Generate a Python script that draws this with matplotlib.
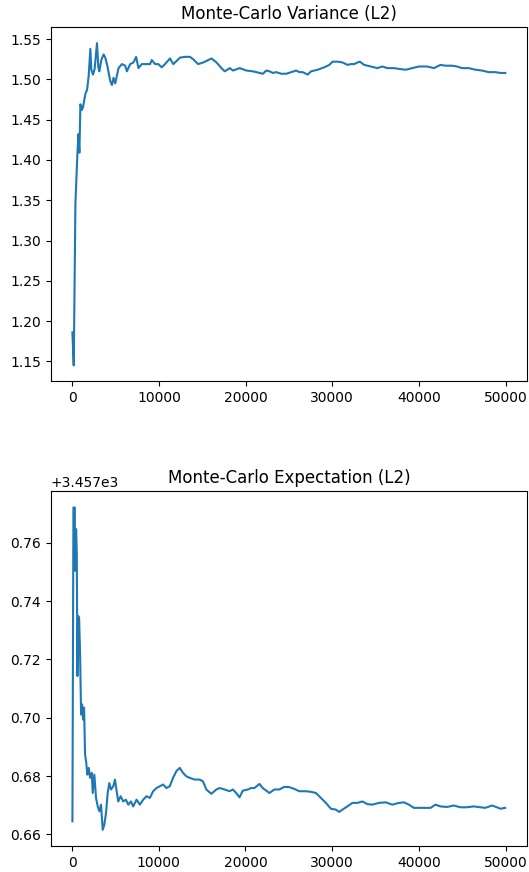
import numpy as np
import matplotlib
matplotlib.use("Agg")
import matplotlib.pyplot as plt

# running estimates vs. number of samples
var_n = [0, 150, 345, 575, 690, 805, 920, 1092, 1230, 1494, 1690, 1874, 2069, 2184,
         2379, 2563, 2839, 2989, 3103, 3333, 3598, 3793, 3988, 4368, 4563, 4747, 4943,
         5322, 5713, 6092, 6287, 6667, 7046, 7356, 7621, 8011, 8586, 8966, 9161, 9540,
         9920, 10310, 10690, 11264, 11644, 12034, 12414, 12989, 13563, 13943, 14517,
         15092, 15483, 16057, 16632, 17207, 17586, 18161, 18540, 19310, 20080, 20839,
         21609, 21989, 22379, 22759, 23138, 23529, 24103, 24678, 25253, 25828, 26207,
         26586, 27161, 27552, 28310, 29080, 29655, 30034, 30609, 31184, 31759, 32149,
         32529, 32908, 33184, 33678, 34448, 35207, 35782, 36356, 37126, 37701, 38471,
         39230, 40000, 40954, 41724, 42494, 43069, 43828, 44402, 44977, 45747, 46517,
         47276, 48046, 48816, 49391, 49966]
var_est = [1.186, 1.145, 1.346, 1.408, 1.432, 1.409, 1.469, 1.462, 1.466, 1.482, 1.487,
           1.504, 1.538, 1.512, 1.506, 1.513, 1.545, 1.515, 1.510, 1.524, 1.531, 1.527,
           1.519, 1.498, 1.493, 1.502, 1.495, 1.514, 1.519, 1.517, 1.510, 1.519, 1.521,
           1.528, 1.514, 1.519, 1.519, 1.519, 1.524, 1.519, 1.519, 1.515, 1.519, 1.526,
           1.519, 1.523, 1.527, 1.528, 1.528, 1.525, 1.519, 1.521, 1.523, 1.526, 1.521,
           1.514, 1.510, 1.514, 1.511, 1.514, 1.511, 1.510, 1.508, 1.507, 1.511, 1.510,
           1.508, 1.509, 1.507, 1.507, 1.509, 1.511, 1.509, 1.509, 1.506, 1.510, 1.512,
           1.515, 1.518, 1.522, 1.522, 1.521, 1.518, 1.519, 1.519, 1.521, 1.522, 1.518,
           1.516, 1.514, 1.516, 1.514, 1.514, 1.513, 1.512, 1.514, 1.516, 1.516, 1.514,
           1.518, 1.517, 1.517, 1.516, 1.514, 1.514, 1.512, 1.511, 1.509, 1.509, 1.508,
           1.508]

exp_n = [35, 150, 310, 345, 460, 540, 610, 690, 805, 920, 1034, 1149, 1264, 1379, 1494,
         1609, 1759, 1920, 2069, 2264, 2379, 2563, 2759, 2954, 3138, 3333, 3529, 3713,
         3908, 4103, 4287, 4483, 4747, 4943, 5138, 5322, 5598, 5897, 6207, 6471, 6782,
         7046, 7437, 7816, 8195, 8586, 8966, 9345, 9736, 10115, 10494, 10885, 11264,
         11644, 12034, 12414, 12793, 13184, 13563, 14138, 14713, 15092, 15483, 16057,
         16632, 17011, 17586, 18161, 18540, 18931, 19310, 19690, 20264, 20655, 21034,
         21609, 21989, 22759, 23333, 23908, 24483, 25057, 25632, 26207, 26977, 27552,
         28126, 28701, 29276, 29851, 30425, 30805, 31184, 31759, 32333, 32908, 33483,
         34057, 34632, 35402, 36172, 36931, 37701, 38276, 38851, 39425, 40000, 40770,
         41345, 41920, 42494, 43253, 44023, 44793, 45552, 46322, 47092, 47667, 48437,
         49011, 49391, 49966]
exp_frac = [0.6645, 0.7721, 0.7721, 0.7504, 0.7647, 0.7562, 0.7143, 0.7349, 0.7343,
            0.7218, 0.7011, 0.7046, 0.6994, 0.7035, 0.6874, 0.6851, 0.6805, 0.6828,
            0.6794, 0.6811, 0.6742, 0.6805, 0.6725, 0.6696, 0.6679, 0.6702, 0.6616,
            0.6633, 0.6673, 0.6742, 0.6776, 0.6754, 0.6765, 0.6788, 0.6748, 0.6713,
            0.6731, 0.6713, 0.6719, 0.6702, 0.6713, 0.6696, 0.6719, 0.6702, 0.6719,
            0.6731, 0.6725, 0.6748, 0.6759, 0.6765, 0.6771, 0.6759, 0.6765, 0.6794,
            0.6817, 0.6828, 0.6811, 0.6799, 0.6794, 0.6788, 0.6788, 0.6782, 0.6754,
            0.6739, 0.6754, 0.6759, 0.6754, 0.6748, 0.6754, 0.6742, 0.6727, 0.6750,
            0.6754, 0.6759, 0.6759, 0.6773, 0.6759, 0.6742, 0.6754, 0.6754, 0.6763,
            0.6762, 0.6756, 0.6748, 0.6748, 0.6746, 0.6742, 0.6725, 0.6708, 0.6688,
            0.6685, 0.6677, 0.6685, 0.6696, 0.6708, 0.6708, 0.6713, 0.6704, 0.6702,
            0.6708, 0.6710, 0.6702, 0.6708, 0.6710, 0.6702, 0.6691, 0.6691, 0.6691,
            0.6691, 0.6702, 0.6696, 0.6694, 0.6699, 0.6693, 0.6693, 0.6696, 0.6693,
            0.6691, 0.6699, 0.6693, 0.6688, 0.6691]
EXP_BASE = 3457.0

exp_est = EXP_BASE + np.array(exp_frac)

fig, (ax1, ax2) = plt.subplots(2, 1, figsize=(5.29, 8.72), dpi=100)
fig.subplots_adjust(left=0.096, right=0.996, top=0.969, bottom=0.030, hspace=0.31)

ax1.plot(var_n, var_est, color='#1f77b4')
ax1.set_title("Monte-Carlo Variance (L2)")

ax2.plot(exp_n, exp_est, color='#1f77b4')
ax2.set_title("Monte-Carlo Expectation (L2)")

fig.savefig("out.png")
